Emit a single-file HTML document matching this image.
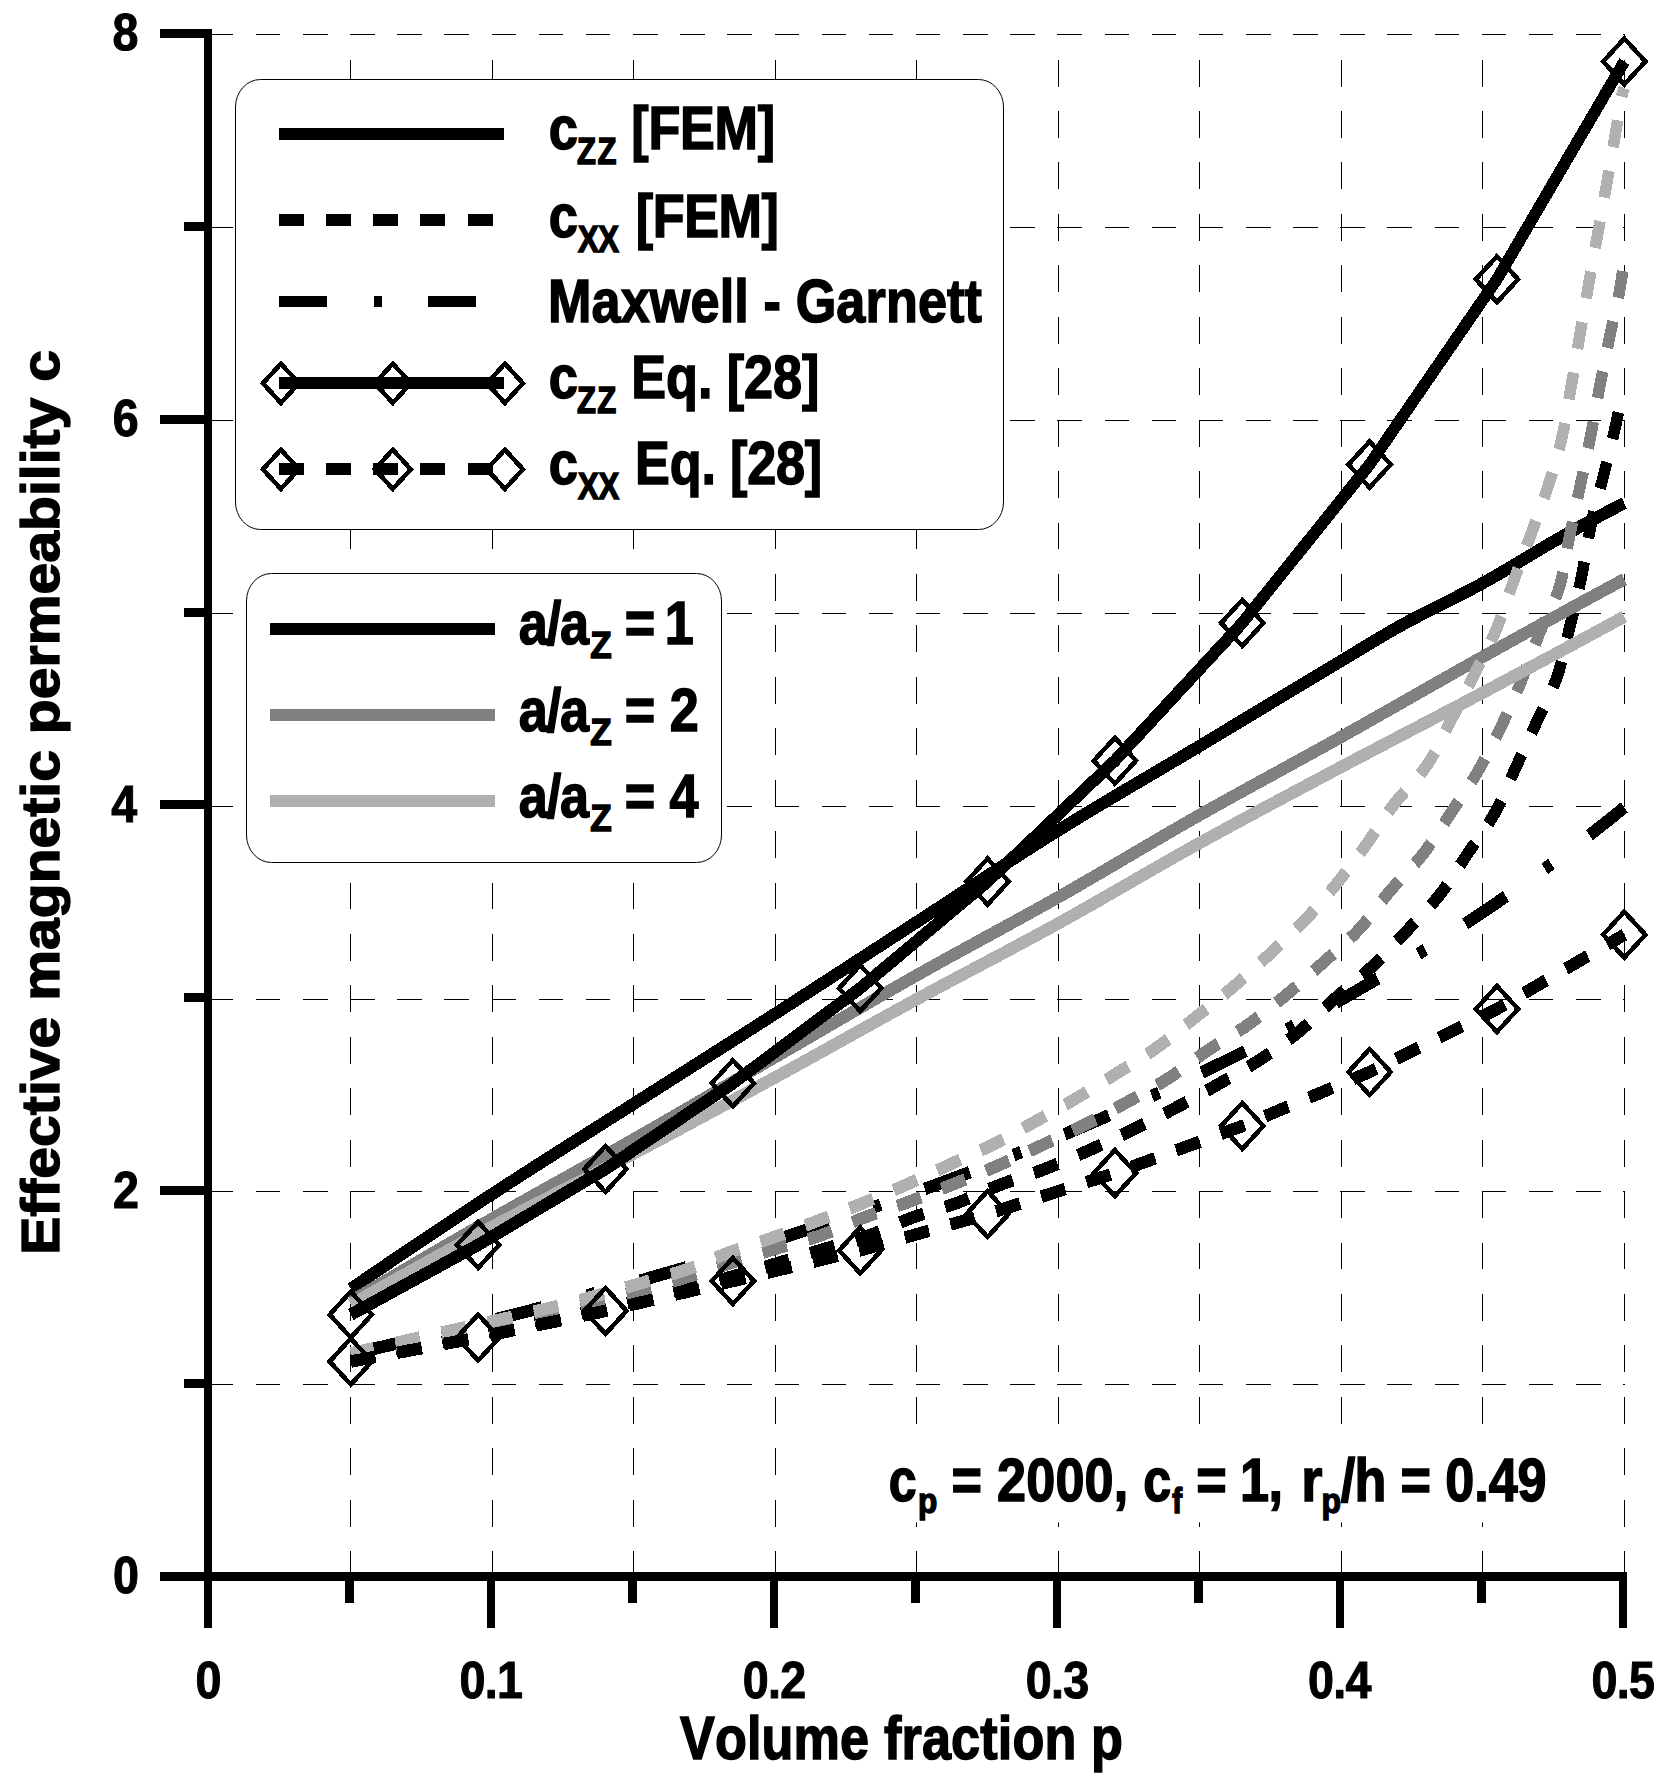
<!DOCTYPE html>
<html lang="en"><head><meta charset="utf-8"><title>Effective magnetic permeability vs volume fraction</title>
<style>html,body{margin:0;padding:0;background:#fff}svg{display:block}text{font-family:"Liberation Sans",sans-serif;font-weight:bold;fill:#000;font-kerning:none}</style>
</head><body>
<svg width="1669" height="1786" viewBox="0 0 1669 1786">
<rect x="0" y="0" width="1669" height="1786" fill="#fff"/>
<g stroke="#000" stroke-width="1" shape-rendering="crispEdges" fill="none">
<line x1="208.7" y1="34.5" x2="1624.5" y2="34.5" stroke-dasharray="24.5 22.65"/>
<line x1="208.7" y1="227.5" x2="1624.5" y2="227.5" stroke-dasharray="24.5 22.65"/>
<line x1="208.7" y1="420.5" x2="1624.5" y2="420.5" stroke-dasharray="24.5 22.65"/>
<line x1="208.7" y1="613.5" x2="1624.5" y2="613.5" stroke-dasharray="24.5 22.65"/>
<line x1="208.7" y1="806.5" x2="1624.5" y2="806.5" stroke-dasharray="24.5 22.65"/>
<line x1="208.7" y1="999.5" x2="1624.5" y2="999.5" stroke-dasharray="24.5 22.65"/>
<line x1="208.7" y1="1191.5" x2="1624.5" y2="1191.5" stroke-dasharray="24.5 22.65"/>
<line x1="208.7" y1="1384.5" x2="1624.5" y2="1384.5" stroke-dasharray="24.5 22.65"/>
<line x1="350.5" y1="1578" x2="350.5" y2="34" stroke-dasharray="26.9 24.53"/>
<line x1="492.5" y1="1578" x2="492.5" y2="34" stroke-dasharray="26.9 24.53"/>
<line x1="633.5" y1="1578" x2="633.5" y2="34" stroke-dasharray="26.9 24.53"/>
<line x1="775.5" y1="1578" x2="775.5" y2="34" stroke-dasharray="26.9 24.53"/>
<line x1="916.5" y1="1578" x2="916.5" y2="34" stroke-dasharray="26.9 24.53"/>
<line x1="1058.5" y1="1578" x2="1058.5" y2="34" stroke-dasharray="26.9 24.53"/>
<line x1="1199.5" y1="1578" x2="1199.5" y2="34" stroke-dasharray="26.9 24.53"/>
<line x1="1341.5" y1="1578" x2="1341.5" y2="34" stroke-dasharray="26.9 24.53"/>
<line x1="1482.5" y1="1578" x2="1482.5" y2="34" stroke-dasharray="26.9 24.53"/>
<line x1="1624.5" y1="1578" x2="1624.5" y2="34" stroke-dasharray="26.9 24.53"/>
</g>
<g transform="scale(1,1.0895)" fill="none" stroke-linejoin="round" stroke-linecap="butt" shape-rendering="crispEdges">
<path d="M350.80,1242.76 L355.06,1241.88 L359.32,1240.99 L363.58,1240.10 L367.84,1239.20 L372.10,1238.31 L376.36,1237.41 L380.61,1236.50 L384.87,1235.60 L389.13,1234.69 L393.39,1233.78 L397.65,1232.86 L401.91,1231.95 L406.17,1231.03 L410.43,1230.10 L414.69,1229.18 L418.95,1228.25 L423.21,1227.31 L427.47,1226.38 L431.72,1225.44 L435.98,1224.50 L440.24,1223.55 L444.50,1222.61 L448.76,1221.66 L453.02,1220.70 L457.28,1219.75 L461.54,1218.78 L465.80,1217.82 L470.06,1216.85 L474.32,1215.89 L478.58,1214.91 L482.84,1213.94 L487.09,1212.96 L491.35,1211.97 L495.61,1210.99 L499.87,1210.00 L504.13,1209.01 L508.39,1208.01 L512.65,1207.01 L516.91,1206.01 L521.17,1205.00 L525.43,1203.99 L529.69,1202.98 L533.95,1201.96 L538.20,1200.94 L542.46,1199.92 L546.72,1198.89 L550.98,1197.86 L555.24,1196.83 L559.50,1195.79 L563.76,1194.75 L568.02,1193.71 L572.28,1192.66 L576.54,1191.61 L580.80,1190.55 L585.06,1189.49 L589.32,1188.43 L593.57,1187.36 L597.83,1186.29 L602.09,1185.22 L606.35,1184.14 L610.61,1183.06 L614.87,1181.97 L619.13,1180.89 L623.39,1179.79 L627.65,1178.70 L631.91,1177.60 L636.17,1176.49 L640.43,1175.38 L644.68,1174.27 L648.94,1173.15 L653.20,1172.03 L657.46,1170.91 L661.72,1169.78 L665.98,1168.65 L670.24,1167.51 L674.50,1166.37 L678.76,1165.23 L683.02,1164.08 L687.28,1162.93 L691.54,1161.77 L695.79,1160.61 L700.05,1159.44 L704.31,1158.27 L708.57,1157.10 L712.83,1155.92 L717.09,1154.74 L721.35,1153.55 L725.61,1152.36 L729.87,1151.17 L734.13,1149.97 L738.39,1148.76 L742.65,1147.55 L746.91,1146.34 L751.16,1145.12 L755.42,1143.90 L759.68,1142.67 L763.94,1141.44 L768.20,1140.20 L772.46,1138.96 L776.72,1137.72 L780.98,1136.47 L785.24,1135.21 L789.50,1133.95 L793.76,1132.69 L798.02,1131.42 L802.27,1130.14 L806.53,1128.87 L810.79,1127.58 L815.05,1126.29 L819.31,1125.00 L823.57,1123.70 L827.83,1122.40 L832.09,1121.09 L836.35,1119.78 L840.61,1118.46 L844.87,1117.13 L849.13,1115.80 L853.39,1114.47 L857.64,1113.13 L861.90,1111.79 L866.16,1110.44 L870.42,1109.08 L874.68,1107.72 L878.94,1106.36 L883.20,1104.98 L887.46,1103.61 L891.72,1102.23 L895.98,1100.84 L900.24,1099.44 L904.50,1098.05 L908.75,1096.64 L913.01,1095.23 L917.27,1093.82 L921.53,1092.40 L925.79,1090.97 L930.05,1089.54 L934.31,1088.10 L938.57,1086.65 L942.83,1085.20 L947.09,1083.75 L951.35,1082.29 L955.61,1080.82 L959.87,1079.34 L964.12,1077.86 L968.38,1076.38 L972.64,1074.89 L976.90,1073.39 L981.16,1071.88 L985.42,1070.37 L989.68,1068.86 L993.94,1067.33 L998.20,1065.80 L1002.46,1064.27 L1006.72,1062.73 L1010.98,1061.18 L1015.23,1059.62 L1019.49,1058.06 L1023.75,1056.49 L1028.01,1054.92 L1032.27,1053.33 L1036.53,1051.75 L1040.79,1050.15 L1045.05,1048.55 L1049.31,1046.94 L1053.57,1045.32 L1057.83,1043.70 L1062.09,1042.07 L1066.35,1040.44 L1070.60,1038.79 L1074.86,1037.14 L1079.12,1035.48 L1083.38,1033.82 L1087.64,1032.15 L1091.90,1030.47 L1096.16,1028.78 L1100.42,1027.08 L1104.68,1025.38 L1108.94,1023.67 L1113.20,1021.96 L1117.46,1020.23 L1121.71,1018.50 L1125.97,1016.76 L1130.23,1015.01 L1134.49,1013.26 L1138.75,1011.49 L1143.01,1009.72 L1147.27,1007.94 L1151.53,1006.16 L1155.79,1004.36 L1160.05,1002.56 L1164.31,1000.75 L1168.57,998.93 L1172.83,997.10 L1177.08,995.26 L1181.34,993.42 L1185.60,991.56 L1189.86,989.70 L1194.12,987.83 L1198.38,985.95 L1202.64,984.06 L1206.90,982.17 L1211.16,980.26 L1215.42,978.35 L1219.68,976.43 L1223.94,974.49 L1228.19,972.55 L1232.45,970.60 L1236.71,968.64 L1240.97,966.67 L1245.23,964.70 L1249.49,962.71 L1253.75,960.71 L1258.01,958.71 L1262.27,956.69 L1266.53,954.66 L1270.79,952.63 L1275.05,950.58 L1279.31,948.53 L1283.56,946.46 L1287.82,944.39 L1292.08,942.30 L1296.34,940.21 L1300.60,938.10 L1304.86,935.99 L1309.12,933.86 L1313.38,931.72 L1317.64,929.58 L1321.90,927.42 L1326.16,925.25 L1330.42,923.07 L1334.67,920.88 L1338.93,918.68 L1343.19,916.47 L1347.45,914.24 L1351.71,912.01 L1355.97,909.76 L1360.23,907.51 L1364.49,905.24 L1368.75,902.96 L1373.01,900.66 L1377.27,898.36 L1381.53,896.05 L1385.78,893.72 L1390.04,891.38 L1394.30,889.03 L1398.56,886.66 L1402.82,884.29 L1407.08,881.90 L1411.34,879.50 L1415.60,877.09 L1419.86,874.66 L1424.12,872.22 L1428.38,869.77 L1432.64,867.31 L1436.90,864.83 L1441.15,862.34 L1445.41,859.84 L1449.67,857.32 L1453.93,854.79 L1458.19,852.24 L1462.45,849.69 L1466.71,847.11 L1470.97,844.53 L1475.23,841.93 L1479.49,839.31 L1483.75,836.69 L1488.01,834.04 L1492.26,831.39 L1496.52,828.71 L1500.78,826.03 L1505.04,823.33 L1509.30,820.61 L1513.56,817.88 L1517.82,815.13 L1522.08,812.37 L1526.34,809.59 L1530.60,806.80 L1534.86,803.99 L1539.12,801.16 L1543.38,798.32 L1547.63,795.47 L1551.89,792.59 L1556.15,789.70 L1560.41,786.80 L1564.67,783.87 L1568.93,780.93 L1573.19,777.97 L1577.45,775.00 L1581.71,772.01 L1585.97,769.00 L1590.23,765.97 L1594.49,762.93 L1598.74,759.86 L1603.00,756.78 L1607.26,753.69 L1611.52,750.57 L1615.78,747.43 L1620.04,744.28 L1624.30,741.10" stroke="#000" stroke-width="11.5" stroke-dasharray="47.75 46.4 7.95 46.4"/>
<path d="M350.80,1183.03 L355.06,1180.35 L359.32,1177.67 L363.58,1174.99 L367.84,1172.32 L372.10,1169.65 L376.36,1166.98 L380.61,1164.32 L384.87,1161.67 L389.13,1159.01 L393.39,1156.36 L397.65,1153.72 L401.91,1151.07 L406.17,1148.44 L410.43,1145.80 L414.69,1143.17 L418.95,1140.54 L423.21,1137.92 L427.47,1135.30 L431.72,1132.69 L435.98,1130.08 L440.24,1127.47 L444.50,1124.86 L448.76,1122.27 L453.02,1119.67 L457.28,1117.08 L461.54,1114.49 L465.80,1111.91 L470.06,1109.33 L474.32,1106.75 L478.58,1104.18 L482.84,1101.61 L487.09,1099.05 L491.35,1096.49 L495.61,1093.94 L499.87,1091.39 L504.13,1088.85 L508.39,1086.31 L512.65,1083.79 L516.91,1081.26 L521.17,1078.75 L525.43,1076.24 L529.69,1073.73 L533.95,1071.23 L538.20,1068.73 L542.46,1066.23 L546.72,1063.74 L550.98,1061.26 L555.24,1058.77 L559.50,1056.29 L563.76,1053.81 L568.02,1051.33 L572.28,1048.85 L576.54,1046.38 L580.80,1043.91 L585.06,1041.43 L589.32,1038.96 L593.57,1036.48 L597.83,1034.01 L602.09,1031.54 L606.35,1029.06 L610.61,1026.58 L614.87,1024.11 L619.13,1021.63 L623.39,1019.14 L627.65,1016.66 L631.91,1014.17 L636.17,1011.68 L640.43,1009.19 L644.68,1006.70 L648.94,1004.21 L653.20,1001.73 L657.46,999.24 L661.72,996.76 L665.98,994.27 L670.24,991.79 L674.50,989.31 L678.76,986.83 L683.02,984.34 L687.28,981.86 L691.54,979.38 L695.79,976.90 L700.05,974.42 L704.31,971.93 L708.57,969.45 L712.83,966.97 L717.09,964.48 L721.35,962.00 L725.61,959.51 L729.87,957.02 L734.13,954.53 L738.39,952.04 L742.65,949.55 L746.91,947.06 L751.16,944.56 L755.42,942.06 L759.68,939.56 L763.94,937.06 L768.20,934.56 L772.46,932.05 L776.72,929.54 L780.98,927.03 L785.24,924.51 L789.50,922.00 L793.76,919.48 L798.02,916.96 L802.27,914.43 L806.53,911.91 L810.79,909.38 L815.05,906.85 L819.31,904.32 L823.57,901.79 L827.83,899.26 L832.09,896.73 L836.35,894.19 L840.61,891.66 L844.87,889.12 L849.13,886.58 L853.39,884.05 L857.64,881.51 L861.90,878.97 L866.16,876.43 L870.42,873.89 L874.68,871.35 L878.94,868.82 L883.20,866.28 L887.46,863.74 L891.72,861.20 L895.98,858.67 L900.24,856.13 L904.50,853.59 L908.75,851.06 L913.01,848.53 L917.27,846.00 L921.53,843.46 L925.79,840.92 L930.05,838.37 L934.31,835.82 L938.57,833.27 L942.83,830.71 L947.09,828.15 L951.35,825.59 L955.61,823.03 L959.87,820.46 L964.12,817.90 L968.38,815.33 L972.64,812.77 L976.90,810.20 L981.16,807.64 L985.42,805.08 L989.68,802.52 L993.94,799.97 L998.20,797.42 L1002.46,794.87 L1006.72,792.33 L1010.98,789.80 L1015.23,787.27 L1019.49,784.75 L1023.75,782.23 L1028.01,779.73 L1032.27,777.23 L1036.53,774.74 L1040.79,772.26 L1045.05,769.79 L1049.31,767.33 L1053.57,764.88 L1057.83,762.45 L1062.09,760.02 L1066.35,757.61 L1070.60,755.21 L1074.86,752.82 L1079.12,750.43 L1083.38,748.06 L1087.64,745.70 L1091.90,743.34 L1096.16,740.99 L1100.42,738.65 L1104.68,736.31 L1108.94,733.98 L1113.20,731.66 L1117.46,729.34 L1121.71,727.02 L1125.97,724.71 L1130.23,722.40 L1134.49,720.09 L1138.75,717.79 L1143.01,715.49 L1147.27,713.18 L1151.53,710.88 L1155.79,708.58 L1160.05,706.27 L1164.31,703.97 L1168.57,701.66 L1172.83,699.35 L1177.08,697.04 L1181.34,694.72 L1185.60,692.40 L1189.86,690.08 L1194.12,687.74 L1198.38,685.41 L1202.64,683.06 L1206.90,680.72 L1211.16,678.37 L1215.42,676.03 L1219.68,673.68 L1223.94,671.33 L1228.19,668.97 L1232.45,666.62 L1236.71,664.27 L1240.97,661.91 L1245.23,659.56 L1249.49,657.20 L1253.75,654.84 L1258.01,652.49 L1262.27,650.13 L1266.53,647.77 L1270.79,645.41 L1275.05,643.06 L1279.31,640.70 L1283.56,638.35 L1287.82,635.99 L1292.08,633.64 L1296.34,631.28 L1300.60,628.93 L1304.86,626.58 L1309.12,624.23 L1313.38,621.89 L1317.64,619.54 L1321.90,617.20 L1326.16,614.85 L1330.42,612.51 L1334.67,610.18 L1338.93,607.84 L1343.19,605.51 L1347.45,603.16 L1351.71,600.80 L1355.97,598.44 L1360.23,596.07 L1364.49,593.70 L1368.75,591.34 L1373.01,588.99 L1377.27,586.65 L1381.53,584.33 L1385.78,582.03 L1390.04,579.76 L1394.30,577.52 L1398.56,575.32 L1402.82,573.15 L1407.08,571.03 L1411.34,568.94 L1415.60,566.88 L1419.86,564.85 L1424.12,562.84 L1428.38,560.85 L1432.64,558.88 L1436.90,556.91 L1441.15,554.95 L1445.41,553.00 L1449.67,551.04 L1453.93,549.07 L1458.19,547.09 L1462.45,545.09 L1466.71,543.07 L1470.97,541.03 L1475.23,538.96 L1479.49,536.86 L1483.75,534.71 L1488.01,532.53 L1492.26,530.31 L1496.52,528.06 L1500.78,525.79 L1505.04,523.48 L1509.30,521.16 L1513.56,518.83 L1517.82,516.48 L1522.08,514.13 L1526.34,511.78 L1530.60,509.43 L1534.86,507.08 L1539.12,504.75 L1543.38,502.43 L1547.63,500.13 L1551.89,497.86 L1556.15,495.62 L1560.41,493.40 L1564.67,491.21 L1568.93,489.03 L1573.19,486.87 L1577.45,484.71 L1581.71,482.57 L1585.97,480.43 L1590.23,478.31 L1594.49,476.20 L1598.74,474.09 L1603.00,472.00 L1607.26,469.93 L1611.52,467.86 L1615.78,465.80 L1620.04,463.75 L1624.30,461.72" stroke="#000" stroke-width="11.5"/>
<path d="M350.80,1247.66 L354.13,1247.12 L357.45,1246.57 L360.77,1246.03 L364.10,1245.48 L367.42,1244.93 L370.75,1244.38 L374.07,1243.82 L377.39,1243.27 L380.72,1242.71 L384.04,1242.15 L387.36,1241.59 L390.68,1241.02 L394.00,1240.46 L397.32,1239.89 L400.64,1239.32 L403.96,1238.75 L407.28,1238.18 L410.60,1237.60 L413.92,1237.02 L417.24,1236.45 L420.56,1235.87 L423.88,1235.28 L427.20,1234.70 L430.52,1234.11 L433.83,1233.52 L437.15,1232.94 L440.47,1232.34 L443.78,1231.75 L447.10,1231.16 L450.42,1230.56 L453.73,1229.96 L457.05,1229.36 L460.36,1228.76 L463.68,1228.15 L466.99,1227.55 L470.30,1226.94 L473.62,1226.33 L476.93,1225.72 L480.24,1225.11 L483.56,1224.50 L486.87,1223.88 L490.18,1223.27 L493.49,1222.65 L496.81,1222.03 L500.12,1221.40 L503.43,1220.78 L506.74,1220.15 L510.05,1219.52 L513.36,1218.89 L516.66,1218.25 L519.97,1217.62 L523.28,1216.98 L526.59,1216.33 L529.90,1215.69 L533.20,1215.05 L536.51,1214.40 L539.81,1213.75 L543.12,1213.10 L546.43,1212.45 L549.73,1211.79 L553.03,1211.13 L556.34,1210.47 L559.64,1209.81 L562.95,1209.15 L566.25,1208.49 L569.55,1207.82 L572.85,1207.15 L576.16,1206.48 L579.46,1205.81 L582.76,1205.14 L586.06,1204.46 L589.36,1203.79 L592.66,1203.11 L595.96,1202.43 L599.26,1201.75 L602.56,1201.07 L605.86,1200.39 L609.16,1199.70 L612.46,1199.01 L615.75,1198.33 L619.05,1197.64 L622.35,1196.95 L625.65,1196.26 L628.94,1195.56 L632.24,1194.87 L635.54,1194.18 L638.83,1193.48 L642.13,1192.78 L645.43,1192.09 L648.72,1191.39 L652.02,1190.69 L655.31,1189.99 L658.61,1189.28 L661.90,1188.57 L665.20,1187.86 L668.49,1187.14 L671.78,1186.42 L675.07,1185.69 L678.36,1184.96 L681.64,1184.21 L684.93,1183.47 L688.21,1182.71 L691.49,1181.95 L694.77,1181.17 L698.05,1180.39 L701.32,1179.60 L704.59,1178.80 L707.86,1177.98 L711.13,1177.16 L714.40,1176.34 L717.66,1175.50 L720.92,1174.66 L724.18,1173.81 L727.44,1172.95 L730.70,1172.09 L733.96,1171.23 L737.21,1170.35 L740.46,1169.48 L743.72,1168.60 L746.97,1167.72 L750.22,1166.84 L753.47,1165.96 L756.72,1165.07 L759.97,1164.19 L763.22,1163.30 L766.47,1162.41 L769.73,1161.53 L772.98,1160.65 L776.23,1159.76 L779.48,1158.88 L782.73,1157.99 L785.98,1157.09 L789.22,1156.19 L792.47,1155.29 L795.71,1154.39 L798.96,1153.48 L802.20,1152.57 L805.45,1151.67 L808.69,1150.76 L811.94,1149.85 L815.18,1148.94 L818.43,1148.04 L821.67,1147.14 L824.92,1146.24 L828.18,1145.36 L831.43,1144.50 L834.69,1143.64 L837.95,1142.79 L841.21,1141.94 L844.47,1141.08 L847.72,1140.22 L850.98,1139.35 L854.23,1138.46 L857.47,1137.55 L860.71,1136.61 L863.94,1135.65 L867.16,1134.65 L870.36,1133.61 L873.55,1132.51 L876.71,1131.37 L879.87,1130.18 L883.01,1128.96 L886.14,1127.72 L889.26,1126.46 L892.39,1125.20 L895.51,1123.93 L898.64,1122.68 L901.78,1121.45 L904.92,1120.25 L908.08,1119.08 L911.26,1117.96 L914.46,1116.89 L917.66,1115.87 L920.88,1114.88 L924.11,1113.91 L927.35,1112.97 L930.59,1112.04 L933.83,1111.12 L937.07,1110.20 L940.31,1109.28 L943.55,1108.34 L946.78,1107.39 L950.00,1106.41 L953.21,1105.39 L956.41,1104.34 L959.60,1103.24 L962.77,1102.10 L965.92,1100.92 L969.07,1099.71 L972.20,1098.48 L975.33,1097.23 L978.46,1095.97 L981.58,1094.70 L984.70,1093.44 L987.83,1092.18 L990.96,1090.94 L994.10,1089.72 L997.25,1088.53 L1000.42,1087.37 L1003.59,1086.25 L1006.79,1085.18 L1009.99,1084.13 L1013.20,1083.10 L1016.41,1082.09 L1019.63,1081.10 L1022.85,1080.11 L1026.07,1079.12 L1029.29,1078.12 L1032.50,1077.11 L1035.71,1076.08 L1038.91,1075.02 L1042.10,1073.93 L1045.28,1072.82 L1048.45,1071.68 L1051.61,1070.52 L1054.77,1069.34 L1057.92,1068.16 L1061.07,1066.95 L1064.21,1065.74 L1067.35,1064.51 L1070.48,1063.27 L1073.61,1062.02 L1076.74,1060.77 L1079.86,1059.51 L1082.98,1058.24 L1086.10,1056.97 L1089.22,1055.69 L1092.34,1054.41 L1095.45,1053.12 L1098.56,1051.83 L1101.66,1050.52 L1104.77,1049.20 L1107.86,1047.87 L1110.96,1046.54 L1114.05,1045.19 L1117.13,1043.84 L1120.22,1042.49 L1123.30,1041.12 L1126.38,1039.76 L1129.45,1038.38 L1132.53,1037.00 L1135.60,1035.62 L1138.67,1034.23 L1141.73,1032.83 L1144.80,1031.43 L1147.86,1030.02 L1150.91,1028.60 L1153.97,1027.18 L1157.02,1025.75 L1160.06,1024.31 L1163.11,1022.87 L1166.15,1021.42 L1169.19,1019.96 L1172.22,1018.49 L1175.25,1017.02 L1178.28,1015.54 L1181.30,1014.05 L1184.32,1012.55 L1187.33,1011.05 L1190.34,1009.53 L1193.35,1008.01 L1196.35,1006.49 L1199.35,1004.95 L1202.35,1003.41 L1205.34,1001.87 L1208.33,1000.32 L1211.32,998.77 L1214.31,997.21 L1217.30,995.65 L1220.28,994.09 L1223.27,992.53 L1226.26,990.98 L1229.25,989.43 L1232.24,987.87 L1235.23,986.31 L1238.21,984.74 L1241.18,983.16 L1244.15,981.57 L1247.11,979.96 L1250.06,978.33 L1252.99,976.67 L1255.92,975.00 L1258.82,973.30 L1261.72,971.57 L1264.61,969.83 L1267.48,968.08 L1270.35,966.31 L1273.20,964.52 L1276.04,962.71 L1278.87,960.88 L1281.69,959.03 L1284.49,957.15 L1287.27,955.26 L1290.04,953.34 L1292.79,951.40 L1295.53,949.43 L1298.25,947.44 L1300.93,945.40 L1303.58,943.32 L1306.19,941.19 L1308.77,939.03 L1311.33,936.83 L1313.87,934.62 L1316.40,932.40 L1318.93,930.17 L1321.45,927.94 L1323.98,925.71 L1326.52,923.49 L1329.07,921.29 L1331.64,919.12 L1334.24,916.98 L1336.87,914.86 L1339.51,912.77 L1342.17,910.70 L1344.83,908.64 L1347.51,906.59 L1350.19,904.55 L1352.87,902.51 L1355.54,900.46 L1358.21,898.41 L1360.87,896.34 L1363.52,894.25 L1366.14,892.14 L1368.75,890.00 L1371.33,887.83 L1373.88,885.63 L1376.41,883.41 L1378.91,881.15 L1381.39,878.88 L1383.86,876.58 L1386.31,874.27 L1388.75,871.95 L1391.18,869.61 L1393.60,867.27 L1396.01,864.92 L1398.42,862.56 L1400.83,860.21 L1403.24,857.85 L1405.65,855.50 L1408.07,853.15 L1410.50,850.81 L1412.94,848.49 L1415.38,846.17 L1417.82,843.85 L1420.25,841.52 L1422.67,839.18 L1425.08,836.82 L1427.47,834.44 L1429.83,832.04 L1432.17,829.61 L1434.47,827.15 L1436.74,824.66 L1438.97,822.13 L1441.15,819.57 L1443.28,816.96 L1445.36,814.31 L1447.41,811.63 L1449.43,808.93 L1451.42,806.22 L1453.39,803.48 L1455.35,800.74 L1457.30,798.00 L1459.24,795.24 L1461.19,792.49 L1463.14,789.75 L1465.10,787.01 L1467.07,784.28 L1469.07,781.56 L1471.09,778.87 L1473.14,776.19 L1475.20,773.52 L1477.26,770.86 L1479.32,768.20 L1481.38,765.53 L1483.41,762.84 L1485.41,760.13 L1487.38,757.39 L1489.31,754.63 L1491.19,751.84 L1493.02,749.01 L1494.81,746.15 L1496.52,743.25 L1498.17,740.31 L1499.75,737.34 L1501.29,734.34 L1502.80,731.33 L1504.28,728.30 L1505.74,725.27 L1507.19,722.23 L1508.63,719.18 L1510.08,716.14 L1511.53,713.10 L1513.00,710.06 L1514.48,707.04 L1515.99,704.03 L1517.50,701.01 L1519.00,698.00 L1520.51,694.99 L1522.02,691.98 L1523.53,688.97 L1525.04,685.95 L1526.55,682.94 L1528.05,679.93 L1529.56,676.91 L1531.06,673.90 L1532.56,670.88 L1534.06,667.86 L1535.56,664.84 L1537.05,661.82 L1538.56,658.81 L1540.11,655.82 L1541.69,652.85 L1543.30,649.88 L1544.91,646.93 L1546.51,643.96 L1548.09,640.98 L1549.63,637.99 L1551.12,634.97 L1552.56,631.92 L1553.93,628.84 L1555.25,625.74 L1556.51,622.62 L1557.71,619.47 L1558.82,616.29 L1559.84,613.08 L1560.81,609.85 L1561.73,606.61 L1562.63,603.36 L1563.49,600.11 L1564.34,596.85 L1565.18,593.58 L1566.01,590.32 L1566.84,587.05 L1567.66,583.79 L1568.49,580.52 L1569.34,577.26 L1570.19,574.00 L1571.05,570.74 L1571.91,567.48 L1572.77,564.23 L1573.63,560.97 L1574.48,557.71 L1575.33,554.45 L1576.17,551.19 L1576.99,547.92 L1577.81,544.65 L1578.62,541.38 L1579.41,538.10 L1580.18,534.83 L1580.95,531.55 L1581.70,528.26 L1582.42,524.97 L1583.11,521.67 L1583.77,518.37 L1584.42,515.06 L1585.05,511.75 L1585.67,508.44 L1586.29,505.13 L1586.92,501.82 L1587.54,498.51 L1588.18,495.20 L1588.83,491.90 L1589.51,488.59 L1590.21,485.30 L1590.96,482.02 L1591.75,478.74 L1592.56,475.47 L1593.40,472.21 L1594.27,468.95 L1595.16,465.70 L1596.07,462.46 L1596.99,459.22 L1597.93,455.98 L1598.87,452.75 L1599.82,449.51 L1600.76,446.28 L1601.69,443.04 L1602.60,439.80 L1603.50,436.55 L1604.38,433.30 L1605.26,430.04 L1606.14,426.79 L1607.02,423.54 L1607.90,420.29 L1608.78,417.04 L1609.66,413.78 L1610.53,410.53 L1611.39,407.27 L1612.24,404.01 L1613.08,400.75 L1613.91,397.48 L1614.73,394.22 L1615.54,390.95 L1616.33,387.67 L1617.10,384.39 L1617.85,381.11 L1618.59,377.82 L1619.33,374.53 L1620.06,371.24" stroke="#000" stroke-width="11.5" stroke-dasharray="25 22.15" stroke-dashoffset="1.5"/>
<path d="M350.80,1194.54 L355.06,1192.21 L359.32,1189.88 L363.58,1187.56 L367.84,1185.24 L372.10,1182.92 L376.36,1180.60 L380.61,1178.29 L384.87,1175.97 L389.13,1173.67 L393.39,1171.36 L397.65,1169.06 L401.91,1166.76 L406.17,1164.46 L410.43,1162.16 L414.69,1159.87 L418.95,1157.58 L423.21,1155.29 L427.47,1153.01 L431.72,1150.73 L435.98,1148.45 L440.24,1146.17 L444.50,1143.90 L448.76,1141.63 L453.02,1139.36 L457.28,1137.10 L461.54,1134.84 L465.80,1132.58 L470.06,1130.32 L474.32,1128.07 L478.58,1125.82 L482.84,1123.57 L487.09,1121.33 L491.35,1119.08 L495.61,1116.85 L499.87,1114.61 L504.13,1112.39 L508.39,1110.17 L512.65,1107.96 L516.91,1105.75 L521.17,1103.55 L525.43,1101.36 L529.69,1099.16 L533.95,1096.97 L538.20,1094.79 L542.46,1092.61 L546.72,1090.43 L550.98,1088.25 L555.24,1086.07 L559.50,1083.89 L563.76,1081.72 L568.02,1079.54 L572.28,1077.37 L576.54,1075.19 L580.80,1073.01 L585.06,1070.83 L589.32,1068.65 L593.57,1066.47 L597.83,1064.28 L602.09,1062.09 L606.35,1059.90 L610.61,1057.70 L614.87,1055.50 L619.13,1053.29 L623.39,1051.08 L627.65,1048.86 L631.91,1046.63 L636.17,1044.40 L640.43,1042.16 L644.68,1039.92 L648.94,1037.67 L653.20,1035.42 L657.46,1033.17 L661.72,1030.91 L665.98,1028.65 L670.24,1026.39 L674.50,1024.12 L678.76,1021.85 L683.02,1019.58 L687.28,1017.30 L691.54,1015.03 L695.79,1012.75 L700.05,1010.47 L704.31,1008.19 L708.57,1005.91 L712.83,1003.63 L717.09,1001.34 L721.35,999.06 L725.61,996.78 L729.87,994.49 L734.13,992.21 L738.39,989.93 L742.65,987.65 L746.91,985.37 L751.16,983.09 L755.42,980.81 L759.68,978.54 L763.94,976.26 L768.20,973.99 L772.46,971.73 L776.72,969.46 L780.98,967.19 L785.24,964.92 L789.50,962.65 L793.76,960.38 L798.02,958.11 L802.27,955.83 L806.53,953.55 L810.79,951.28 L815.05,949.00 L819.31,946.72 L823.57,944.45 L827.83,942.17 L832.09,939.89 L836.35,937.62 L840.61,935.35 L844.87,933.07 L849.13,930.80 L853.39,928.53 L857.64,926.27 L861.90,924.00 L866.16,921.74 L870.42,919.48 L874.68,917.23 L878.94,914.97 L883.20,912.72 L887.46,910.48 L891.72,908.24 L895.98,906.00 L900.24,903.77 L904.50,901.55 L908.75,899.32 L913.01,897.11 L917.27,894.90 L921.53,892.70 L925.79,890.50 L930.05,888.32 L934.31,886.14 L938.57,883.97 L942.83,881.80 L947.09,879.64 L951.35,877.49 L955.61,875.34 L959.87,873.19 L964.12,871.05 L968.38,868.91 L972.64,866.78 L976.90,864.64 L981.16,862.51 L985.42,860.38 L989.68,858.25 L993.94,856.11 L998.20,853.98 L1002.46,851.84 L1006.72,849.71 L1010.98,847.57 L1015.23,845.42 L1019.49,843.27 L1023.75,841.12 L1028.01,838.97 L1032.27,836.80 L1036.53,834.64 L1040.79,832.46 L1045.05,830.28 L1049.31,828.09 L1053.57,825.89 L1057.83,823.68 L1062.09,821.47 L1066.35,819.24 L1070.60,817.00 L1074.86,814.76 L1079.12,812.51 L1083.38,810.25 L1087.64,807.98 L1091.90,805.71 L1096.16,803.43 L1100.42,801.15 L1104.68,798.86 L1108.94,796.57 L1113.20,794.28 L1117.46,791.98 L1121.71,789.68 L1125.97,787.38 L1130.23,785.09 L1134.49,782.79 L1138.75,780.49 L1143.01,778.19 L1147.27,775.90 L1151.53,773.61 L1155.79,771.32 L1160.05,769.03 L1164.31,766.75 L1168.57,764.48 L1172.83,762.21 L1177.08,759.95 L1181.34,757.69 L1185.60,755.44 L1189.86,753.20 L1194.12,750.97 L1198.38,748.75 L1202.64,746.54 L1206.90,744.33 L1211.16,742.14 L1215.42,739.95 L1219.68,737.77 L1223.94,735.59 L1228.19,733.42 L1232.45,731.25 L1236.71,729.09 L1240.97,726.94 L1245.23,724.78 L1249.49,722.63 L1253.75,720.49 L1258.01,718.34 L1262.27,716.20 L1266.53,714.06 L1270.79,711.92 L1275.05,709.78 L1279.31,707.65 L1283.56,705.51 L1287.82,703.37 L1292.08,701.23 L1296.34,699.09 L1300.60,696.95 L1304.86,694.81 L1309.12,692.66 L1313.38,690.51 L1317.64,688.36 L1321.90,686.20 L1326.16,684.04 L1330.42,681.87 L1334.67,679.70 L1338.93,677.52 L1343.19,675.33 L1347.45,673.14 L1351.71,670.95 L1355.97,668.75 L1360.23,666.55 L1364.49,664.34 L1368.75,662.13 L1373.01,659.92 L1377.27,657.70 L1381.53,655.48 L1385.78,653.26 L1390.04,651.04 L1394.30,648.81 L1398.56,646.58 L1402.82,644.36 L1407.08,642.13 L1411.34,639.90 L1415.60,637.68 L1419.86,635.45 L1424.12,633.22 L1428.38,631.00 L1432.64,628.78 L1436.90,626.56 L1441.15,624.34 L1445.41,622.12 L1449.67,619.91 L1453.93,617.70 L1458.19,615.49 L1462.45,613.29 L1466.71,611.09 L1470.97,608.90 L1475.23,606.71 L1479.49,604.52 L1483.75,602.34 L1488.01,600.17 L1492.26,598.00 L1496.52,595.83 L1500.78,593.66 L1505.04,591.49 L1509.30,589.32 L1513.56,587.16 L1517.82,585.00 L1522.08,582.84 L1526.34,580.69 L1530.60,578.53 L1534.86,576.38 L1539.12,574.23 L1543.38,572.08 L1547.63,569.93 L1551.89,567.79 L1556.15,565.65 L1560.41,563.51 L1564.67,561.37 L1568.93,559.23 L1573.19,557.10 L1577.45,554.97 L1581.71,552.84 L1585.97,550.71 L1590.23,548.58 L1594.49,546.46 L1598.74,544.34 L1603.00,542.22 L1607.26,540.10 L1611.52,537.99 L1615.78,535.87 L1620.04,533.76 L1624.30,531.65" stroke="#808080" stroke-width="11.5"/>
<path d="M350.80,1244.12 L354.32,1243.52 L357.83,1242.91 L361.35,1242.30 L364.86,1241.69 L368.38,1241.08 L371.89,1240.46 L375.40,1239.84 L378.92,1239.22 L382.43,1238.60 L385.94,1237.97 L389.45,1237.34 L392.96,1236.70 L396.47,1236.07 L399.98,1235.43 L403.49,1234.78 L407.00,1234.14 L410.51,1233.49 L414.02,1232.84 L417.52,1232.18 L421.03,1231.53 L424.54,1230.87 L428.04,1230.20 L431.55,1229.54 L435.05,1228.87 L438.56,1228.20 L442.06,1227.52 L445.56,1226.85 L449.07,1226.17 L452.57,1225.49 L456.07,1224.80 L459.57,1224.11 L463.07,1223.43 L466.57,1222.73 L470.07,1222.04 L473.57,1221.34 L477.07,1220.64 L480.56,1219.94 L484.06,1219.23 L487.56,1218.52 L491.05,1217.81 L494.55,1217.10 L498.04,1216.38 L501.54,1215.67 L505.03,1214.95 L508.53,1214.23 L512.02,1213.50 L515.51,1212.78 L519.01,1212.05 L522.50,1211.32 L525.99,1210.59 L529.48,1209.85 L532.97,1209.11 L536.46,1208.37 L539.95,1207.63 L543.44,1206.88 L546.93,1206.13 L550.41,1205.38 L553.90,1204.63 L557.39,1203.87 L560.87,1203.11 L564.36,1202.34 L567.84,1201.57 L571.32,1200.80 L574.81,1200.03 L578.29,1199.25 L581.77,1198.46 L585.25,1197.68 L588.73,1196.89 L592.21,1196.09 L595.68,1195.30 L599.16,1194.49 L602.63,1193.69 L606.11,1192.88 L609.58,1192.06 L613.05,1191.25 L616.53,1190.42 L620.00,1189.59 L623.47,1188.76 L626.93,1187.93 L630.40,1187.09 L633.87,1186.24 L637.33,1185.39 L640.80,1184.53 L644.26,1183.67 L647.72,1182.81 L651.18,1181.94 L654.63,1181.05 L658.09,1180.15 L661.53,1179.23 L664.98,1178.30 L668.42,1177.36 L671.86,1176.41 L675.29,1175.45 L678.73,1174.48 L682.16,1173.51 L685.59,1172.54 L689.02,1171.56 L692.46,1170.59 L695.89,1169.61 L699.32,1168.63 L702.75,1167.65 L706.17,1166.65 L709.60,1165.65 L713.02,1164.64 L716.44,1163.63 L719.86,1162.61 L723.28,1161.59 L726.70,1160.57 L730.11,1159.54 L733.53,1158.51 L736.95,1157.49 L740.36,1156.46 L743.78,1155.43 L747.20,1154.41 L750.61,1153.39 L754.03,1152.37 L757.46,1151.36 L760.88,1150.35 L764.30,1149.36 L767.73,1148.36 L771.16,1147.38 L774.59,1146.41 L778.03,1145.45 L781.47,1144.52 L784.92,1143.60 L788.37,1142.71 L791.83,1141.82 L795.29,1140.93 L798.74,1140.04 L802.19,1139.14 L805.64,1138.23 L809.08,1137.29 L812.52,1136.32 L815.94,1135.32 L819.35,1134.28 L822.75,1133.20 L826.13,1132.04 L829.49,1130.84 L832.83,1129.60 L836.16,1128.32 L839.48,1127.02 L842.80,1125.70 L846.11,1124.38 L849.43,1123.07 L852.75,1121.76 L856.08,1120.48 L859.42,1119.22 L862.77,1118.01 L866.14,1116.84 L869.53,1115.70 L872.91,1114.59 L876.31,1113.49 L879.71,1112.41 L883.11,1111.34 L886.52,1110.28 L889.93,1109.22 L893.33,1108.16 L896.73,1107.09 L900.13,1106.00 L903.53,1104.90 L906.91,1103.78 L910.29,1102.63 L913.66,1101.47 L917.03,1100.28 L920.39,1099.09 L923.75,1097.88 L927.10,1096.67 L930.45,1095.44 L933.80,1094.21 L937.14,1092.97 L940.49,1091.72 L943.83,1090.47 L947.17,1089.22 L950.51,1087.97 L953.85,1086.72 L957.20,1085.47 L960.54,1084.22 L963.88,1082.97 L967.22,1081.72 L970.56,1080.46 L973.89,1079.20 L977.23,1077.93 L980.56,1076.66 L983.89,1075.37 L987.21,1074.08 L990.54,1072.78 L993.85,1071.46 L997.17,1070.14 L1000.47,1068.80 L1003.77,1067.45 L1007.07,1066.08 L1010.36,1064.70 L1013.65,1063.32 L1016.93,1061.92 L1020.21,1060.52 L1023.49,1059.12 L1026.77,1057.71 L1030.04,1056.29 L1033.32,1054.88 L1036.59,1053.46 L1039.87,1052.04 L1043.14,1050.63 L1046.42,1049.22 L1049.69,1047.80 L1052.97,1046.39 L1056.24,1044.97 L1059.52,1043.55 L1062.79,1042.12 L1066.05,1040.69 L1069.32,1039.25 L1072.58,1037.80 L1075.83,1036.34 L1079.08,1034.87 L1082.32,1033.38 L1085.56,1031.88 L1088.79,1030.37 L1092.02,1028.85 L1095.24,1027.32 L1098.46,1025.78 L1101.67,1024.23 L1104.88,1022.67 L1108.08,1021.10 L1111.28,1019.52 L1114.48,1017.93 L1117.67,1016.34 L1120.86,1014.74 L1124.05,1013.13 L1127.23,1011.52 L1130.41,1009.91 L1133.60,1008.30 L1136.78,1006.69 L1139.96,1005.07 L1143.13,1003.44 L1146.30,1001.80 L1149.46,1000.15 L1152.62,998.48 L1155.76,996.80 L1158.89,995.09 L1162.01,993.36 L1165.12,991.60 L1168.21,989.82 L1171.27,987.99 L1174.31,986.12 L1177.32,984.20 L1180.31,982.26 L1183.29,980.30 L1186.26,978.32 L1189.22,976.33 L1192.18,974.34 L1195.14,972.35 L1198.11,970.37 L1201.09,968.41 L1204.09,966.48 L1207.11,964.57 L1210.15,962.70 L1213.21,960.87 L1216.29,959.07 L1219.38,957.30 L1222.49,955.54 L1225.60,953.79 L1228.71,952.04 L1231.81,950.29 L1234.91,948.52 L1237.99,946.72 L1241.06,944.90 L1244.11,943.05 L1247.13,941.15 L1250.12,939.21 L1253.09,937.23 L1256.05,935.23 L1258.98,933.20 L1261.90,931.15 L1264.80,929.08 L1267.69,926.99 L1270.57,924.88 L1273.44,922.76 L1276.31,920.63 L1279.16,918.49 L1282.01,916.35 L1284.86,914.19 L1287.70,912.04 L1290.53,909.87 L1293.35,907.68 L1296.16,905.48 L1298.95,903.26 L1301.74,901.04 L1304.52,898.80 L1307.30,896.56 L1310.06,894.31 L1312.83,892.05 L1315.58,889.79 L1318.34,887.52 L1321.09,885.25 L1323.84,882.98 L1326.60,880.71 L1329.37,878.46 L1332.14,876.22 L1334.92,873.98 L1337.69,871.73 L1340.45,869.47 L1343.19,867.20 L1345.92,864.90 L1348.63,862.57 L1351.31,860.21 L1353.95,857.82 L1356.56,855.39 L1359.14,852.92 L1361.66,850.39 L1364.11,847.80 L1366.51,845.16 L1368.86,842.48 L1371.19,839.78 L1373.49,837.05 L1375.78,834.32 L1378.07,831.58 L1380.36,828.85 L1382.67,826.12 L1384.99,823.42 L1387.35,820.74 L1389.76,818.11 L1392.20,815.51 L1394.68,812.95 L1397.20,810.41 L1399.73,807.90 L1402.28,805.40 L1404.83,802.91 L1407.37,800.41 L1409.91,797.90 L1412.42,795.37 L1414.90,792.81 L1417.35,790.21 L1419.76,787.58 L1422.12,784.90 L1424.43,782.18 L1426.68,779.42 L1428.89,776.61 L1431.05,773.78 L1433.19,770.92 L1435.30,768.04 L1437.39,765.15 L1439.47,762.25 L1441.53,759.34 L1443.59,756.43 L1445.65,753.52 L1447.72,750.61 L1449.79,747.71 L1451.88,744.81 L1453.98,741.93 L1456.09,739.05 L1458.21,736.18 L1460.32,733.30 L1462.43,730.43 L1464.52,727.54 L1466.60,724.64 L1468.67,721.73 L1470.71,718.80 L1472.72,715.86 L1474.70,712.89 L1476.65,709.91 L1478.57,706.90 L1480.45,703.87 L1482.31,700.82 L1484.13,697.75 L1485.93,694.67 L1487.71,691.58 L1489.47,688.47 L1491.20,685.36 L1492.92,682.23 L1494.63,679.10 L1496.32,675.96 L1498.00,672.81 L1499.67,669.66 L1501.33,666.50 L1502.97,663.33 L1504.60,660.16 L1506.22,656.98 L1507.81,653.79 L1509.39,650.59 L1510.96,647.38 L1512.51,644.17 L1514.04,640.95 L1515.56,637.72 L1517.06,634.48 L1518.55,631.24 L1520.03,628.00 L1521.48,624.74 L1522.91,621.47 L1524.30,618.18 L1525.67,614.89 L1527.03,611.59 L1528.37,608.28 L1529.71,604.98 L1531.04,601.67 L1532.38,598.36 L1533.72,595.05 L1535.07,591.75 L1536.44,588.46 L1537.82,585.17 L1539.24,581.89 L1540.69,578.64 L1542.23,575.42 L1543.84,572.24 L1545.51,569.08 L1547.21,565.94 L1548.91,562.81 L1550.57,559.65 L1552.18,556.47 L1553.71,553.25 L1555.16,549.99 L1556.53,546.69 L1557.80,543.36 L1559.00,540.00 L1560.11,536.61 L1561.08,533.17 L1561.94,529.71 L1562.73,526.23 L1563.47,522.74 L1564.19,519.25 L1564.89,515.75 L1565.57,512.25 L1566.25,508.75 L1566.93,505.24 L1567.61,501.74 L1568.31,498.24 L1569.03,494.75 L1569.77,491.26 L1570.55,487.78 L1571.34,484.30 L1572.13,480.82 L1572.93,477.34 L1573.74,473.87 L1574.54,470.39 L1575.35,466.92 L1576.17,463.44 L1576.98,459.97 L1577.79,456.50 L1578.60,453.02 L1579.41,449.55 L1580.21,446.07 L1581.01,442.59 L1581.81,439.12 L1582.62,435.64 L1583.42,432.17 L1584.23,428.69 L1585.04,425.22 L1585.84,421.74 L1586.64,418.26 L1587.44,414.79 L1588.22,411.30 L1589.00,407.82 L1589.76,404.34 L1590.52,400.85 L1591.26,397.36 L1591.98,393.87 L1592.69,390.37 L1593.39,386.87 L1594.08,383.37 L1594.76,379.87 L1595.44,376.37 L1596.11,372.87 L1596.79,369.36 L1597.48,365.86 L1598.17,362.36 L1598.87,358.86 L1599.58,355.37 L1600.31,351.88 L1601.05,348.38 L1601.79,344.90 L1602.54,341.41 L1603.30,337.92 L1604.06,334.44 L1604.83,330.95 L1605.60,327.47 L1606.38,323.99 L1607.15,320.50 L1607.93,317.02 L1608.71,313.54 L1609.50,310.06 L1610.28,306.58 L1611.08,303.10 L1611.91,299.63 L1612.76,296.17 L1613.62,292.71 L1614.49,289.25 L1615.35,285.79 L1616.20,282.32 L1617.02,278.85 L1617.81,275.37 L1618.57,271.88 L1619.29,268.39 L1619.98,264.89 L1620.63,261.38 L1621.24,257.87 L1621.80,254.34 L1622.33,250.82 L1622.84,247.28 L1623.33,243.75 L1623.82,240.22 L1624.30,236.68" stroke="#808080" stroke-width="11.5" stroke-dasharray="25 22.15" stroke-dashoffset="1.5"/>
<path d="M350.80,1197.55 L355.06,1195.33 L359.32,1193.11 L363.58,1190.90 L367.84,1188.69 L372.10,1186.49 L376.36,1184.29 L380.61,1182.09 L384.87,1179.90 L389.13,1177.71 L393.39,1175.52 L397.65,1173.34 L401.91,1171.17 L406.17,1168.99 L410.43,1166.82 L414.69,1164.66 L418.95,1162.50 L423.21,1160.34 L427.47,1158.19 L431.72,1156.04 L435.98,1153.90 L440.24,1151.76 L444.50,1149.62 L448.76,1147.49 L453.02,1145.36 L457.28,1143.24 L461.54,1141.12 L465.80,1139.00 L470.06,1136.89 L474.32,1134.78 L478.58,1132.68 L482.84,1130.58 L487.09,1128.49 L491.35,1126.40 L495.61,1124.31 L499.87,1122.24 L504.13,1120.17 L508.39,1118.12 L512.65,1116.07 L516.91,1114.03 L521.17,1111.99 L525.43,1109.96 L529.69,1107.94 L533.95,1105.93 L538.20,1103.91 L542.46,1101.91 L546.72,1099.90 L550.98,1097.90 L555.24,1095.90 L559.50,1093.90 L563.76,1091.90 L568.02,1089.91 L572.28,1087.91 L576.54,1085.92 L580.80,1083.92 L585.06,1081.92 L589.32,1079.92 L593.57,1077.91 L597.83,1075.91 L602.09,1073.90 L606.35,1071.88 L610.61,1069.86 L614.87,1067.83 L619.13,1065.80 L623.39,1063.76 L627.65,1061.71 L631.91,1059.66 L636.17,1057.59 L640.43,1055.53 L644.68,1053.46 L648.94,1051.38 L653.20,1049.31 L657.46,1047.23 L661.72,1045.15 L665.98,1043.06 L670.24,1040.97 L674.50,1038.88 L678.76,1036.79 L683.02,1034.69 L687.28,1032.59 L691.54,1030.49 L695.79,1028.39 L700.05,1026.28 L704.31,1024.17 L708.57,1022.06 L712.83,1019.95 L717.09,1017.84 L721.35,1015.72 L725.61,1013.61 L729.87,1011.49 L734.13,1009.37 L738.39,1007.24 L742.65,1005.12 L746.91,1003.00 L751.16,1000.87 L755.42,998.74 L759.68,996.62 L763.94,994.49 L768.20,992.36 L772.46,990.23 L776.72,988.09 L780.98,985.96 L785.24,983.82 L789.50,981.67 L793.76,979.52 L798.02,977.37 L802.27,975.22 L806.53,973.06 L810.79,970.89 L815.05,968.73 L819.31,966.56 L823.57,964.39 L827.83,962.22 L832.09,960.05 L836.35,957.88 L840.61,955.71 L844.87,953.53 L849.13,951.36 L853.39,949.19 L857.64,947.01 L861.90,944.84 L866.16,942.67 L870.42,940.51 L874.68,938.34 L878.94,936.18 L883.20,934.02 L887.46,931.86 L891.72,929.70 L895.98,927.55 L900.24,925.40 L904.50,923.26 L908.75,921.12 L913.01,918.99 L917.27,916.86 L921.53,914.74 L925.79,912.63 L930.05,910.52 L934.31,908.42 L938.57,906.32 L942.83,904.23 L947.09,902.14 L951.35,900.06 L955.61,897.98 L959.87,895.90 L964.12,893.83 L968.38,891.75 L972.64,889.68 L976.90,887.61 L981.16,885.54 L985.42,883.47 L989.68,881.40 L993.94,879.33 L998.20,877.25 L1002.46,875.18 L1006.72,873.10 L1010.98,871.02 L1015.23,868.93 L1019.49,866.84 L1023.75,864.74 L1028.01,862.65 L1032.27,860.54 L1036.53,858.43 L1040.79,856.31 L1045.05,854.18 L1049.31,852.05 L1053.57,849.91 L1057.83,847.76 L1062.09,845.59 L1066.35,843.42 L1070.60,841.24 L1074.86,839.05 L1079.12,836.85 L1083.38,834.64 L1087.64,832.42 L1091.90,830.20 L1096.16,827.97 L1100.42,825.73 L1104.68,823.49 L1108.94,821.25 L1113.20,819.00 L1117.46,816.75 L1121.71,814.49 L1125.97,812.24 L1130.23,809.99 L1134.49,807.73 L1138.75,805.48 L1143.01,803.23 L1147.27,800.98 L1151.53,798.73 L1155.79,796.49 L1160.05,794.25 L1164.31,792.01 L1168.57,789.78 L1172.83,787.56 L1177.08,785.35 L1181.34,783.14 L1185.60,780.94 L1189.86,778.75 L1194.12,776.57 L1198.38,774.41 L1202.64,772.25 L1206.90,770.09 L1211.16,767.95 L1215.42,765.80 L1219.68,763.67 L1223.94,761.53 L1228.19,759.41 L1232.45,757.28 L1236.71,755.16 L1240.97,753.05 L1245.23,750.94 L1249.49,748.83 L1253.75,746.73 L1258.01,744.63 L1262.27,742.53 L1266.53,740.43 L1270.79,738.34 L1275.05,736.25 L1279.31,734.16 L1283.56,732.08 L1287.82,730.00 L1292.08,727.91 L1296.34,725.83 L1300.60,723.76 L1304.86,721.68 L1309.12,719.60 L1313.38,717.53 L1317.64,715.45 L1321.90,713.38 L1326.16,711.30 L1330.42,709.23 L1334.67,707.15 L1338.93,705.08 L1343.19,703.00 L1347.45,700.93 L1351.71,698.86 L1355.97,696.80 L1360.23,694.74 L1364.49,692.68 L1368.75,690.63 L1373.01,688.58 L1377.27,686.53 L1381.53,684.48 L1385.78,682.43 L1390.04,680.39 L1394.30,678.35 L1398.56,676.30 L1402.82,674.26 L1407.08,672.22 L1411.34,670.18 L1415.60,668.14 L1419.86,666.10 L1424.12,664.06 L1428.38,662.02 L1432.64,659.98 L1436.90,657.93 L1441.15,655.89 L1445.41,653.84 L1449.67,651.79 L1453.93,649.74 L1458.19,647.69 L1462.45,645.63 L1466.71,643.57 L1470.97,641.51 L1475.23,639.44 L1479.49,637.37 L1483.75,635.30 L1488.01,633.22 L1492.26,631.14 L1496.52,629.06 L1500.78,626.98 L1505.04,624.90 L1509.30,622.82 L1513.56,620.73 L1517.82,618.64 L1522.08,616.56 L1526.34,614.47 L1530.60,612.38 L1534.86,610.28 L1539.12,608.19 L1543.38,606.09 L1547.63,604.00 L1551.89,601.90 L1556.15,599.80 L1560.41,597.70 L1564.67,595.59 L1568.93,593.49 L1573.19,591.38 L1577.45,589.28 L1581.71,587.17 L1585.97,585.06 L1590.23,582.95 L1594.49,580.83 L1598.74,578.72 L1603.00,576.60 L1607.26,574.48 L1611.52,572.37 L1615.78,570.25 L1620.04,568.12 L1624.30,566.00" stroke="#b0b0b0" stroke-width="11.5"/>
<path d="M350.80,1242.35 L354.51,1241.55 L358.22,1240.75 L361.93,1239.96 L365.63,1239.16 L369.34,1238.37 L373.05,1237.57 L376.76,1236.78 L380.47,1235.98 L384.18,1235.19 L387.89,1234.40 L391.60,1233.61 L395.31,1232.82 L399.02,1232.03 L402.73,1231.24 L406.44,1230.45 L410.15,1229.66 L413.86,1228.88 L417.57,1228.10 L421.29,1227.33 L425.00,1226.56 L428.71,1225.79 L432.43,1225.03 L436.14,1224.26 L439.86,1223.50 L443.58,1222.74 L447.29,1221.99 L451.01,1221.23 L454.73,1220.47 L458.44,1219.72 L462.16,1218.96 L465.88,1218.21 L469.60,1217.46 L473.31,1216.70 L477.03,1215.94 L480.75,1215.19 L484.46,1214.43 L488.18,1213.67 L491.89,1212.90 L495.61,1212.14 L499.32,1211.37 L503.04,1210.60 L506.75,1209.82 L510.46,1209.04 L514.17,1208.26 L517.88,1207.47 L521.59,1206.68 L525.30,1205.89 L529.01,1205.09 L532.72,1204.28 L536.42,1203.47 L540.12,1202.65 L543.83,1201.83 L547.53,1200.99 L551.23,1200.16 L554.92,1199.31 L558.62,1198.46 L562.31,1197.60 L566.01,1196.73 L569.70,1195.86 L573.39,1194.98 L577.07,1194.09 L580.76,1193.19 L584.44,1192.29 L588.13,1191.38 L591.81,1190.47 L595.49,1189.55 L599.17,1188.62 L602.84,1187.69 L606.52,1186.75 L610.19,1185.81 L613.87,1184.86 L617.54,1183.91 L621.21,1182.96 L624.88,1182.00 L628.55,1181.03 L632.21,1180.07 L635.88,1179.10 L639.55,1178.12 L643.21,1177.14 L646.87,1176.16 L650.54,1175.18 L654.20,1174.20 L657.87,1173.23 L661.54,1172.26 L665.20,1171.29 L668.87,1170.31 L672.53,1169.32 L676.18,1168.31 L679.83,1167.28 L683.48,1166.23 L687.11,1165.15 L690.74,1164.03 L694.36,1162.88 L697.96,1161.69 L701.52,1160.41 L705.06,1159.04 L708.58,1157.62 L712.09,1156.18 L715.59,1154.73 L719.11,1153.30 L722.64,1151.92 L726.20,1150.61 L729.78,1149.37 L733.38,1148.16 L736.99,1146.99 L740.61,1145.85 L744.23,1144.73 L747.86,1143.63 L751.49,1142.53 L755.12,1141.43 L758.75,1140.33 L762.38,1139.22 L766.00,1138.10 L769.61,1136.95 L773.22,1135.77 L776.82,1134.58 L780.42,1133.38 L784.01,1132.17 L787.60,1130.95 L791.19,1129.73 L794.78,1128.49 L798.37,1127.26 L801.95,1126.01 L805.53,1124.77 L809.11,1123.51 L812.69,1122.26 L816.27,1121.01 L819.85,1119.75 L823.43,1118.50 L827.01,1117.24 L830.59,1115.98 L834.16,1114.71 L837.74,1113.44 L841.31,1112.16 L844.88,1110.88 L848.44,1109.59 L852.01,1108.29 L855.57,1106.98 L859.13,1105.67 L862.68,1104.34 L866.23,1103.01 L869.78,1101.67 L873.32,1100.32 L876.87,1098.96 L880.40,1097.60 L883.94,1096.23 L887.47,1094.85 L891.00,1093.46 L894.53,1092.06 L898.05,1090.66 L901.57,1089.24 L905.09,1087.82 L908.60,1086.39 L912.11,1084.94 L915.61,1083.48 L919.10,1082.00 L922.59,1080.52 L926.08,1079.03 L929.57,1077.54 L933.05,1076.04 L936.54,1074.55 L940.02,1073.05 L943.51,1071.55 L947.00,1070.07 L950.49,1068.58 L953.99,1067.11 L957.49,1065.65 L960.99,1064.20 L964.49,1062.75 L968.00,1061.29 L971.50,1059.84 L975.00,1058.37 L978.49,1056.89 L981.97,1055.39 L985.45,1053.88 L988.92,1052.34 L992.37,1050.77 L995.81,1049.17 L999.24,1047.55 L1002.66,1045.90 L1006.06,1044.23 L1009.46,1042.55 L1012.85,1040.85 L1016.24,1039.14 L1019.62,1037.42 L1023.00,1035.69 L1026.37,1033.96 L1029.75,1032.24 L1033.13,1030.52 L1036.51,1028.80 L1039.89,1027.07 L1043.27,1025.35 L1046.64,1023.62 L1050.02,1021.89 L1053.39,1020.15 L1056.76,1018.40 L1060.12,1016.65 L1063.48,1014.88 L1066.83,1013.11 L1070.18,1011.33 L1073.52,1009.54 L1076.86,1007.73 L1080.19,1005.91 L1083.51,1004.08 L1086.82,1002.24 L1090.13,1000.39 L1093.44,998.52 L1096.74,996.65 L1100.03,994.78 L1103.33,992.89 L1106.61,991.01 L1109.90,989.11 L1113.19,987.22 L1116.47,985.32 L1119.76,983.43 L1123.05,981.55 L1126.35,979.67 L1129.64,977.79 L1132.94,975.91 L1136.22,974.02 L1139.50,972.11 L1142.77,970.19 L1146.03,968.24 L1149.27,966.27 L1152.50,964.28 L1155.70,962.24 L1158.88,960.18 L1162.03,958.07 L1165.15,955.92 L1168.26,953.74 L1171.35,951.53 L1174.42,949.31 L1177.48,947.07 L1180.53,944.81 L1183.58,942.55 L1186.62,940.29 L1189.67,938.04 L1192.72,935.79 L1195.78,933.55 L1198.85,931.31 L1201.92,929.09 L1204.99,926.86 L1208.06,924.63 L1211.13,922.40 L1214.19,920.16 L1217.25,917.91 L1220.29,915.66 L1223.33,913.39 L1226.36,911.11 L1229.38,908.81 L1232.38,906.49 L1235.37,904.15 L1238.34,901.79 L1241.30,899.42 L1244.25,897.03 L1247.18,894.63 L1250.11,892.22 L1253.03,889.79 L1255.93,887.36 L1258.83,884.92 L1261.73,882.46 L1264.62,880.01 L1267.51,877.55 L1270.39,875.08 L1273.27,872.62 L1276.16,870.15 L1279.04,867.69 L1281.92,865.22 L1284.79,862.74 L1287.65,860.25 L1290.50,857.75 L1293.33,855.22 L1296.15,852.68 L1298.95,850.12 L1301.72,847.54 L1304.47,844.93 L1307.20,842.29 L1309.90,839.62 L1312.57,836.94 L1315.23,834.23 L1317.86,831.50 L1320.48,828.75 L1323.08,825.99 L1325.66,823.21 L1328.22,820.42 L1330.78,817.61 L1333.31,814.79 L1335.84,811.96 L1338.35,809.12 L1340.85,806.26 L1343.32,803.39 L1345.78,800.50 L1348.22,797.59 L1350.64,794.67 L1353.05,791.74 L1355.44,788.80 L1357.82,785.85 L1360.19,782.89 L1362.55,779.92 L1364.90,776.94 L1367.25,773.96 L1369.56,770.95 L1371.83,767.91 L1374.07,764.85 L1376.30,761.78 L1378.52,758.71 L1380.74,755.63 L1382.96,752.56 L1385.21,749.50 L1387.48,746.47 L1389.79,743.46 L1392.15,740.49 L1394.57,737.57 L1397.07,734.72 L1399.63,731.92 L1402.25,729.17 L1404.91,726.47 L1407.58,723.78 L1410.26,721.10 L1412.93,718.40 L1415.57,715.67 L1418.16,712.90 L1420.69,710.08 L1423.14,707.19 L1425.52,704.23 L1427.81,701.21 L1430.00,698.11 L1432.08,694.94 L1434.08,691.71 L1436.01,688.45 L1437.90,685.16 L1439.75,681.85 L1441.57,678.52 L1443.38,675.19 L1445.18,671.85 L1446.98,668.51 L1448.79,665.18 L1450.62,661.85 L1452.47,658.54 L1454.33,655.24 L1456.18,651.93 L1458.03,648.62 L1459.87,645.30 L1461.71,641.98 L1463.54,638.66 L1465.37,635.34 L1467.19,632.01 L1469.01,628.68 L1470.82,625.35 L1472.63,622.02 L1474.44,618.68 L1476.25,615.35 L1478.09,612.03 L1479.94,608.72 L1481.79,605.41 L1483.64,602.10 L1485.48,598.78 L1487.30,595.45 L1489.09,592.11 L1490.85,588.75 L1492.57,585.37 L1494.24,581.96 L1495.86,578.54 L1497.44,575.09 L1498.94,571.60 L1500.39,568.10 L1501.79,564.57 L1503.16,561.04 L1504.51,557.49 L1505.84,553.94 L1507.16,550.38 L1508.48,546.83 L1509.81,543.28 L1511.15,539.73 L1512.50,536.18 L1513.89,532.65 L1515.29,529.13 L1516.70,525.61 L1518.13,522.09 L1519.56,518.58 L1520.99,515.07 L1522.42,511.56 L1523.86,508.04 L1525.29,504.53 L1526.72,501.02 L1528.14,497.50 L1529.56,493.98 L1530.96,490.46 L1532.36,486.93 L1533.77,483.41 L1535.18,479.89 L1536.60,476.38 L1538.02,472.86 L1539.43,469.34 L1540.82,465.81 L1542.20,462.28 L1543.56,458.73 L1544.90,455.18 L1546.20,451.62 L1547.48,448.05 L1548.73,444.47 L1549.96,440.88 L1551.19,437.30 L1552.41,433.70 L1553.61,430.10 L1554.78,426.50 L1555.93,422.88 L1557.04,419.25 L1558.11,415.62 L1559.15,411.97 L1560.16,408.31 L1561.13,404.65 L1562.06,400.97 L1562.95,397.28 L1563.78,393.58 L1564.56,389.87 L1565.31,386.15 L1566.04,382.43 L1566.74,378.70 L1567.44,374.97 L1568.12,371.24 L1568.80,367.51 L1569.48,363.78 L1570.17,360.05 L1570.86,356.32 L1571.56,352.59 L1572.26,348.86 L1572.95,345.13 L1573.63,341.40 L1574.31,337.67 L1574.99,333.94 L1575.66,330.21 L1576.34,326.47 L1577.01,322.74 L1577.69,319.01 L1578.37,315.28 L1579.05,311.55 L1579.74,307.82 L1580.44,304.09 L1581.14,300.36 L1581.84,296.63 L1582.55,292.91 L1583.26,289.18 L1583.97,285.45 L1584.68,281.73 L1585.39,278.00 L1586.11,274.28 L1586.82,270.55 L1587.54,266.83 L1588.26,263.10 L1588.98,259.38 L1589.70,255.66 L1590.42,251.93 L1591.14,248.21 L1591.87,244.49 L1592.60,240.76 L1593.33,237.04 L1594.06,233.32 L1594.78,229.60 L1595.51,225.88 L1596.24,222.15 L1596.97,218.43 L1597.70,214.71 L1598.43,210.99 L1599.16,207.26 L1599.89,203.54 L1600.63,199.82 L1601.36,196.10 L1602.09,192.38 L1602.83,188.66 L1603.56,184.93 L1604.29,181.21 L1605.01,177.49 L1605.74,173.77 L1606.46,170.04 L1607.18,166.32 L1607.89,162.59 L1608.61,158.87 L1609.32,155.14 L1610.02,151.42 L1610.73,147.69 L1611.44,143.96 L1612.14,140.24 L1612.85,136.51 L1613.55,132.78 L1614.25,129.05 L1614.96,125.33 L1615.66,121.60 L1616.33,117.87 L1616.98,114.13 L1617.61,110.39 L1618.24,106.65 L1618.87,102.91 L1619.52,99.17 L1620.21,95.44 L1620.96,91.72 L1621.82,88.03 L1622.89,84.39 L1624.30,80.87" stroke="#b0b0b0" stroke-width="11.5" stroke-dasharray="25 22.15" stroke-dashoffset="1.5"/>
<path d="M329.70,1206.61 L350.80,1185.51 L371.90,1206.61 L350.80,1227.71 Z" stroke="#000" stroke-width="4.4" stroke-linejoin="miter"/>
<path d="M457.05,1142.63 L478.15,1121.53 L499.25,1142.63 L478.15,1163.73 Z" stroke="#000" stroke-width="4.4" stroke-linejoin="miter"/>
<path d="M584.40,1072.97 L605.50,1051.87 L626.60,1072.97 L605.50,1094.07 Z" stroke="#000" stroke-width="4.4" stroke-linejoin="miter"/>
<path d="M711.75,994.31 L732.85,973.21 L753.95,994.31 L732.85,1015.41 Z" stroke="#000" stroke-width="4.4" stroke-linejoin="miter"/>
<path d="M839.10,907.02 L860.20,885.92 L881.30,907.02 L860.20,928.12 Z" stroke="#000" stroke-width="4.4" stroke-linejoin="miter"/>
<path d="M966.45,809.18 L987.55,788.08 L1008.65,809.18 L987.55,830.28 Z" stroke="#000" stroke-width="4.4" stroke-linejoin="miter"/>
<path d="M1093.80,698.21 L1114.90,677.11 L1136.00,698.21 L1114.90,719.31 Z" stroke="#000" stroke-width="4.4" stroke-linejoin="miter"/>
<path d="M1221.15,571.82 L1242.25,550.72 L1263.35,571.82 L1242.25,592.92 Z" stroke="#000" stroke-width="4.4" stroke-linejoin="miter"/>
<path d="M1348.50,426.34 L1369.60,405.24 L1390.70,426.34 L1369.60,447.44 Z" stroke="#000" stroke-width="4.4" stroke-linejoin="miter"/>
<path d="M1475.85,256.36 L1496.95,235.26 L1518.05,256.36 L1496.95,277.46 Z" stroke="#000" stroke-width="4.4" stroke-linejoin="miter"/>
<path d="M1603.20,56.45 L1624.30,35.35 L1645.40,56.45 L1624.30,77.55 Z" stroke="#000" stroke-width="4.4" stroke-linejoin="miter"/>
<path d="M329.70,1249.66 L350.80,1228.56 L371.90,1249.66 L350.80,1270.76 Z" stroke="#000" stroke-width="4.4" stroke-linejoin="miter"/>
<path d="M457.05,1227.63 L478.15,1206.53 L499.25,1227.63 L478.15,1248.73 Z" stroke="#000" stroke-width="4.4" stroke-linejoin="miter"/>
<path d="M584.40,1203.21 L605.50,1182.11 L626.60,1203.21 L605.50,1224.31 Z" stroke="#000" stroke-width="4.4" stroke-linejoin="miter"/>
<path d="M711.75,1175.77 L732.85,1154.67 L753.95,1175.77 L732.85,1196.87 Z" stroke="#000" stroke-width="4.4" stroke-linejoin="miter"/>
<path d="M839.10,1147.68 L860.20,1126.58 L881.30,1147.68 L860.20,1168.78 Z" stroke="#000" stroke-width="4.4" stroke-linejoin="miter"/>
<path d="M966.45,1114.27 L987.55,1093.17 L1008.65,1114.27 L987.55,1135.37 Z" stroke="#000" stroke-width="4.4" stroke-linejoin="miter"/>
<path d="M1093.80,1076.73 L1114.90,1055.63 L1136.00,1076.73 L1114.90,1097.83 Z" stroke="#000" stroke-width="4.4" stroke-linejoin="miter"/>
<path d="M1221.15,1033.50 L1242.25,1012.40 L1263.35,1033.50 L1242.25,1054.60 Z" stroke="#000" stroke-width="4.4" stroke-linejoin="miter"/>
<path d="M1348.50,983.94 L1369.60,962.84 L1390.70,983.94 L1369.60,1005.04 Z" stroke="#000" stroke-width="4.4" stroke-linejoin="miter"/>
<path d="M1475.85,926.11 L1496.95,905.01 L1518.05,926.11 L1496.95,947.21 Z" stroke="#000" stroke-width="4.4" stroke-linejoin="miter"/>
<path d="M1603.20,857.92 L1624.30,836.82 L1645.40,857.92 L1624.30,879.02 Z" stroke="#000" stroke-width="4.4" stroke-linejoin="miter"/>
<path d="M350.80,1206.61 L478.15,1142.63 L605.50,1072.97 L732.85,994.31 L860.20,907.02 L987.55,809.18 L1114.90,698.21 L1242.25,571.82 L1369.60,426.34 L1496.95,256.36 L1624.30,56.45" stroke="#000" stroke-width="11.5"/>
<path d="M350.80,1249.66 L478.15,1227.63 L605.50,1203.21 L732.85,1175.77 L860.20,1147.68 L987.55,1114.27 L1114.90,1076.73 L1242.25,1033.50 L1369.60,983.94 L1496.95,926.11 L1624.30,857.92" stroke="#000" stroke-width="11.5" stroke-dasharray="25 22.15"/>
</g>
<rect x="235.5" y="79.5" width="768.0" height="450.0" rx="25" ry="27.5" fill="#fff" stroke="#000" stroke-width="1"/>
<rect x="246.5" y="573.5" width="475.0" height="289.0" rx="25" ry="27.5" fill="#fff" stroke="#000" stroke-width="1"/>
<g transform="scale(1,1.0895)" fill="none" stroke-linecap="butt" shape-rendering="crispEdges">
<path d="M278.9,122.99 L504.3,122.99" stroke="#000" stroke-width="10.9"/>
<path d="M278.9,202.20 L504.3,202.20" stroke="#000" stroke-width="10.9" stroke-dasharray="25 22.15"/>
<path d="M278.9,276.73 L504.3,276.73" stroke="#000" stroke-width="10.9" stroke-dasharray="48 46.65 8 46.65"/>
<path d="M262.90,351.81 L280.90,333.81 L298.90,351.81 L280.90,369.81 Z" stroke="#000" stroke-width="4.4" stroke-linejoin="miter"/>
<path d="M374.80,351.81 L392.80,333.81 L410.80,351.81 L392.80,369.81 Z" stroke="#000" stroke-width="4.4" stroke-linejoin="miter"/>
<path d="M486.90,351.81 L504.90,333.81 L522.90,351.81 L504.90,369.81 Z" stroke="#000" stroke-width="4.4" stroke-linejoin="miter"/>
<path d="M262.90,430.75 L280.90,412.75 L298.90,430.75 L280.90,448.75 Z" stroke="#000" stroke-width="4.4" stroke-linejoin="miter"/>
<path d="M374.80,430.75 L392.80,412.75 L410.80,430.75 L392.80,448.75 Z" stroke="#000" stroke-width="4.4" stroke-linejoin="miter"/>
<path d="M486.90,430.75 L504.90,412.75 L522.90,430.75 L504.90,448.75 Z" stroke="#000" stroke-width="4.4" stroke-linejoin="miter"/>
<path d="M278.9,351.81 L504.0,351.81" stroke="#000" stroke-width="10.9"/>
<path d="M278.9,430.75 L504.3,430.75" stroke="#000" stroke-width="10.9" stroke-dasharray="25 22.15"/>
<path d="M269.7,577.70 L494.9,577.70" stroke="#000" stroke-width="10.9"/>
<path d="M269.7,656.63 L494.9,656.63" stroke="#808080" stroke-width="10.9"/>
<path d="M269.7,735.29 L494.9,735.29" stroke="#b0b0b0" stroke-width="10.9"/>
</g>
<rect x="884" y="1440" width="666" height="82.3" fill="#fff"/>
<g fill="#000" shape-rendering="crispEdges">
<rect x="204" y="29" width="8" height="1599"/>
<rect x="160" y="1572" width="1467" height="9"/>
<rect x="160" y="1572" width="48" height="9"/>
<rect x="184" y="1379" width="24" height="9"/>
<rect x="160" y="1186" width="48" height="9"/>
<rect x="184" y="993" width="24" height="9"/>
<rect x="160" y="800" width="48" height="9"/>
<rect x="184" y="608" width="24" height="9"/>
<rect x="160" y="415" width="48" height="9"/>
<rect x="184" y="222" width="24" height="9"/>
<rect x="160" y="29" width="48" height="9"/>
<rect x="204" y="1572" width="8" height="56"/>
<rect x="345" y="1572" width="9" height="31"/>
<rect x="487" y="1572" width="8" height="56"/>
<rect x="628" y="1572" width="9" height="31"/>
<rect x="770" y="1572" width="8" height="56"/>
<rect x="911" y="1572" width="9" height="31"/>
<rect x="1053" y="1572" width="8" height="56"/>
<rect x="1194" y="1572" width="9" height="31"/>
<rect x="1336" y="1572" width="8" height="56"/>
<rect x="1477" y="1572" width="9" height="31"/>
<rect x="1619" y="1572" width="8" height="56"/>
</g>
<g>
<text transform="translate(112.95,1593.40) scale(0.8860,1)" font-size="52.68" letter-spacing="-0.758" stroke="#000" stroke-width="1.0" vector-effect="non-scaling-stroke">0</text>
<text transform="translate(112.91,1207.65) scale(0.8860,1)" font-size="52.68" letter-spacing="-0.758" stroke="#000" stroke-width="1.0" vector-effect="non-scaling-stroke">2</text>
<text transform="translate(111.29,821.90) scale(0.8860,1)" font-size="52.68" letter-spacing="-0.758" stroke="#000" stroke-width="1.0" vector-effect="non-scaling-stroke">4</text>
<text transform="translate(112.73,436.15) scale(0.8860,1)" font-size="52.68" letter-spacing="-0.758" stroke="#000" stroke-width="1.0" vector-effect="non-scaling-stroke">6</text>
<text transform="translate(112.48,50.40) scale(0.8860,1)" font-size="52.68" letter-spacing="-0.758" stroke="#000" stroke-width="1.0" vector-effect="non-scaling-stroke">8</text>
<text transform="translate(195.55,1697.80) scale(0.8860,1)" font-size="52.68" letter-spacing="-0.758" stroke="#000" stroke-width="1.0" vector-effect="non-scaling-stroke">0</text>
<text transform="translate(459.45,1697.80) scale(0.8860,1)" font-size="52.68" letter-spacing="-0.758" stroke="#000" stroke-width="1.0" vector-effect="non-scaling-stroke">0.1</text>
<text transform="translate(742.74,1697.80) scale(0.8860,1)" font-size="52.68" letter-spacing="-0.758" stroke="#000" stroke-width="1.0" vector-effect="non-scaling-stroke">0.2</text>
<text transform="translate(1025.65,1697.80) scale(0.8860,1)" font-size="52.68" letter-spacing="-0.758" stroke="#000" stroke-width="1.0" vector-effect="non-scaling-stroke">0.3</text>
<text transform="translate(1307.93,1697.80) scale(0.8860,1)" font-size="52.68" letter-spacing="-0.758" stroke="#000" stroke-width="1.0" vector-effect="non-scaling-stroke">0.4</text>
<text transform="translate(1591.45,1697.80) scale(0.8860,1)" font-size="52.68" letter-spacing="-0.758" stroke="#000" stroke-width="1.0" vector-effect="non-scaling-stroke">0.5</text>
</g>
<text transform="translate(679.94,1759.40) scale(0.8500,1)" font-size="61.40" letter-spacing="0.172" stroke="#000" stroke-width="1.4" vector-effect="non-scaling-stroke">Volume fraction p</text>
<text transform="translate(59.1,1254.82) rotate(-90) scale(0.9300,0.8676)" font-size="61.4" letter-spacing="0.021" stroke="#000" stroke-width="1.4" vector-effect="non-scaling-stroke">Effective magnetic permeability c</text>
<text transform="translate(548.65,149.00) scale(0.8547,1)" font-size="61.40" stroke="#000" stroke-width="1.4" vector-effect="non-scaling-stroke">c</text>
<text transform="translate(577.08,164.00) scale(0.8500,1)" font-size="36.50" letter-spacing="1.783" stroke="#000" stroke-width="1.4" vector-effect="non-scaling-stroke">ZZ</text>
<text transform="translate(631.27,149.00) scale(0.8500,1)" font-size="61.40" letter-spacing="-0.283" stroke="#000" stroke-width="1.4" vector-effect="non-scaling-stroke">[FEM]</text>
<text transform="translate(548.65,236.70) scale(0.8547,1)" font-size="61.40" stroke="#000" stroke-width="1.4" vector-effect="non-scaling-stroke">c</text>
<text transform="translate(577.93,251.70) scale(0.8500,1)" font-size="36.50" letter-spacing="-0.402" stroke="#000" stroke-width="1.4" vector-effect="non-scaling-stroke">XX</text>
<text transform="translate(635.67,236.70) scale(0.8500,1)" font-size="61.40" letter-spacing="-0.460" stroke="#000" stroke-width="1.4" vector-effect="non-scaling-stroke">[FEM]</text>
<text transform="translate(547.91,321.70) scale(0.8500,1)" font-size="61.40" letter-spacing="0.148" stroke="#000" stroke-width="1.4" vector-effect="non-scaling-stroke">Maxwell - Garnett</text>
<text transform="translate(548.65,398.00) scale(0.8547,1)" font-size="61.40" stroke="#000" stroke-width="1.4" vector-effect="non-scaling-stroke">c</text>
<text transform="translate(576.88,413.00) scale(0.8500,1)" font-size="36.50" letter-spacing="1.547" stroke="#000" stroke-width="1.4" vector-effect="non-scaling-stroke">ZZ</text>
<text transform="translate(631.31,398.00) scale(0.8500,1)" font-size="61.40" letter-spacing="-0.064" stroke="#000" stroke-width="1.4" vector-effect="non-scaling-stroke">Eq. [28]</text>
<text transform="translate(548.65,484.00) scale(0.8547,1)" font-size="61.40" stroke="#000" stroke-width="1.4" vector-effect="non-scaling-stroke">c</text>
<text transform="translate(577.93,499.00) scale(0.8500,1)" font-size="36.50" letter-spacing="-0.049" stroke="#000" stroke-width="1.4" vector-effect="non-scaling-stroke">XX</text>
<text transform="translate(635.11,484.00) scale(0.8500,1)" font-size="61.40" letter-spacing="-0.232" stroke="#000" stroke-width="1.4" vector-effect="non-scaling-stroke">Eq. [28]</text>
<text transform="translate(518.87,644.00) scale(0.8500,1)" font-size="61.40" letter-spacing="-1.443" stroke="#000" stroke-width="1.4" vector-effect="non-scaling-stroke">a/a</text>
<text transform="translate(590.25,658.40) scale(0.9624,1)" font-size="36.50" stroke="#000" stroke-width="1.4" vector-effect="non-scaling-stroke">Z</text>
<text transform="translate(624.83,644.00) scale(0.8500,1)" font-size="61.40" letter-spacing="-2.991" stroke="#000" stroke-width="1.4" vector-effect="non-scaling-stroke">= 1</text>
<text transform="translate(518.87,730.50) scale(0.8500,1)" font-size="61.40" letter-spacing="-1.443" stroke="#000" stroke-width="1.4" vector-effect="non-scaling-stroke">a/a</text>
<text transform="translate(590.25,744.90) scale(0.9624,1)" font-size="36.50" stroke="#000" stroke-width="1.4" vector-effect="non-scaling-stroke">Z</text>
<text transform="translate(624.83,730.50) scale(0.8500,1)" font-size="61.40" letter-spacing="0.031" stroke="#000" stroke-width="1.4" vector-effect="non-scaling-stroke">= 2</text>
<text transform="translate(518.87,816.70) scale(0.8500,1)" font-size="61.40" letter-spacing="-1.443" stroke="#000" stroke-width="1.4" vector-effect="non-scaling-stroke">a/a</text>
<text transform="translate(590.25,831.10) scale(0.9624,1)" font-size="36.50" stroke="#000" stroke-width="1.4" vector-effect="non-scaling-stroke">Z</text>
<text transform="translate(624.83,816.70) scale(0.8500,1)" font-size="61.40" letter-spacing="-0.151" stroke="#000" stroke-width="1.4" vector-effect="non-scaling-stroke">= 4</text>
<text transform="translate(888.85,1500.50) scale(0.8147,1)" font-size="61.40" stroke="#000" stroke-width="1.4" vector-effect="non-scaling-stroke">c</text>
<text transform="translate(918.12,1512.80) scale(0.8888,1)" font-size="35.50" stroke="#000" stroke-width="1.4" vector-effect="non-scaling-stroke">p</text>
<text transform="translate(951.53,1500.50) scale(0.8500,1)" font-size="61.40" letter-spacing="0.250" stroke="#000" stroke-width="1.4" vector-effect="non-scaling-stroke">= 2000,</text>
<text transform="translate(1143.14,1500.50) scale(0.8180,1)" font-size="61.40" stroke="#000" stroke-width="1.4" vector-effect="non-scaling-stroke">c</text>
<text transform="translate(1172.19,1512.80) scale(0.8330,1)" font-size="35.50" stroke="#000" stroke-width="1.4" vector-effect="non-scaling-stroke">f</text>
<text transform="translate(1196.33,1500.50) scale(0.8500,1)" font-size="61.40" letter-spacing="-0.724" stroke="#000" stroke-width="1.4" vector-effect="non-scaling-stroke">= 1,</text>
<text transform="translate(1301.21,1500.50) scale(0.8881,1)" font-size="61.40" stroke="#000" stroke-width="1.4" vector-effect="non-scaling-stroke">r</text>
<text transform="translate(1321.59,1512.80) scale(0.9000,1)" font-size="35.50" stroke="#000" stroke-width="1.4" vector-effect="non-scaling-stroke">p</text>
<text transform="translate(1340.69,1500.50) scale(0.8500,1)" font-size="61.40" letter-spacing="-0.863" stroke="#000" stroke-width="1.4" vector-effect="non-scaling-stroke">/h</text>
<text transform="translate(1400.53,1500.50) scale(0.8500,1)" font-size="61.40" letter-spacing="-0.106" stroke="#000" stroke-width="1.4" vector-effect="non-scaling-stroke">= 0.49</text>
</svg>
</body></html>
